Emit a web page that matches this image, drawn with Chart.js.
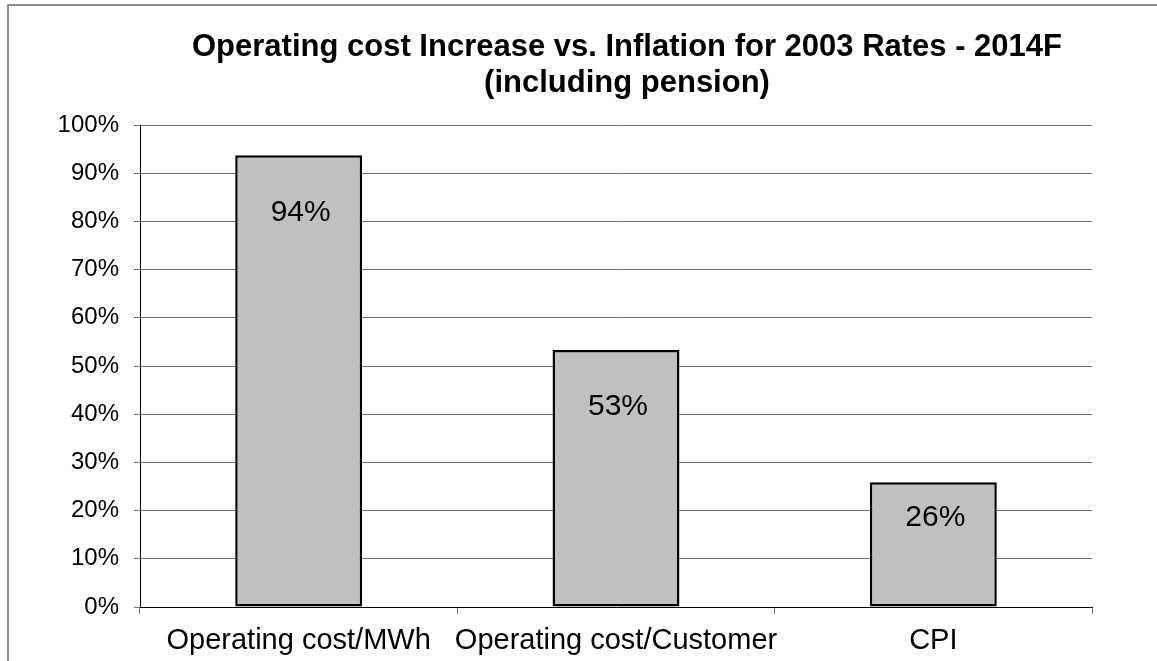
<!DOCTYPE html>
<html>
<head>
<meta charset="utf-8">
<script src="https://cdn.jsdelivr.net/npm/chart.js@4/dist/chart.umd.min.js"></script>
<style>
  body { margin: 0; background: #fff; overflow: hidden; }
  #frame { position: absolute; left: 7px; top: 4px; width: 1200px; height: 700px; border-left: 2px solid #8c8c8c; border-top: 2px solid #8c8c8c; }
  #wrap { position: absolute; left: 0; top: 0; width: 1157px; height: 661px; }
</style>
</head>
<body>
<div id="frame"></div>
<div id="wrap"><canvas id="chart"></canvas></div>
<script>
// Chart data
const categories = ['Operating cost/MWh', 'Operating cost/Customer', 'CPI'];
const increases = [93.7, 53.3, 25.9];
const titleLines = ['Operating cost Increase vs. Inflation for 2003 Rates - 2014F', '(including pension)'];

const FONT = 'Arial, "Liberation Sans", sans-serif';

// title drawn by hand so it can sit off-centre like the original
const titlePlugin = {
    id: 'manualTitle',
    afterDraw(chart) {
        const ctx = chart.ctx;
        ctx.save();
        ctx.fillStyle = '#000';
        ctx.font = 'bold 31px ' + FONT;
        ctx.textAlign = 'center';
        ctx.textBaseline = 'middle';
        ctx.fillText(titleLines[0], 627, 47);
        ctx.fillText(titleLines[1], 627, 83);
        ctx.restore();
    }
};

// value labels inside the bars
const valueLabels = {
    id: 'valueLabels',
    afterDatasetsDraw(chart) {
        const ctx = chart.ctx;
        const meta = chart.getDatasetMeta(0);
        ctx.save();
        ctx.fillStyle = '#000';
        ctx.font = '30px ' + FONT;
        ctx.textAlign = 'center';
        ctx.textBaseline = 'middle';
        meta.data.forEach((bar, i) => {
            const h = bar.base - bar.y;
            const y = bar.y + Math.min(57, h * 0.29);
            ctx.fillText(Math.round(increases[i]) + '%', bar.x + 2, y);
        });
        ctx.restore();
    }
};

new Chart(document.getElementById('chart').getContext('2d'), {
    type: 'bar',
    data: {
        labels: categories,
        datasets: [{
            data: increases,
            backgroundColor: '#c0c0c0',
            borderColor: '#000',
            borderWidth: 2.5,
            borderSkipped: false,
            barPercentage: 0.4,
            categoryPercentage: 1
        }]
    },
    options: {
        responsive: true,
        maintainAspectRatio: false,
        animation: false,
        layout: { padding: { left: 0, right: 65, top: 125, bottom: 0 } },
        plugins: {
            legend: { display: false },
            title: { display: false },
            tooltip: { enabled: false }
        },
        scales: {
            x: {
                grid: { drawOnChartArea: false, drawTicks: true, tickLength: 7, offset: true, color: '#777' },
                border: { color: '#000', width: 1 },
                ticks: { color: '#000', font: { family: FONT, size: 29 }, padding: 10, maxRotation: 0, autoSkip: false },
                afterFit(scale) { scale.height = 54; }
            },
            y: {
                min: 0,
                max: 100,
                ticks: { stepSize: 10, color: '#000', font: { family: FONT, size: 24 }, padding: 15, callback: v => v + '%' },
                grid: { color: '#6e6e6e', tickLength: 6, lineWidth: 1 },
                border: { color: '#000', width: 1 },
                afterFit(scale) { scale.width = 140; }
            }
        }
    },
    plugins: [titlePlugin, valueLabels]
});
</script>
</body>
</html>
